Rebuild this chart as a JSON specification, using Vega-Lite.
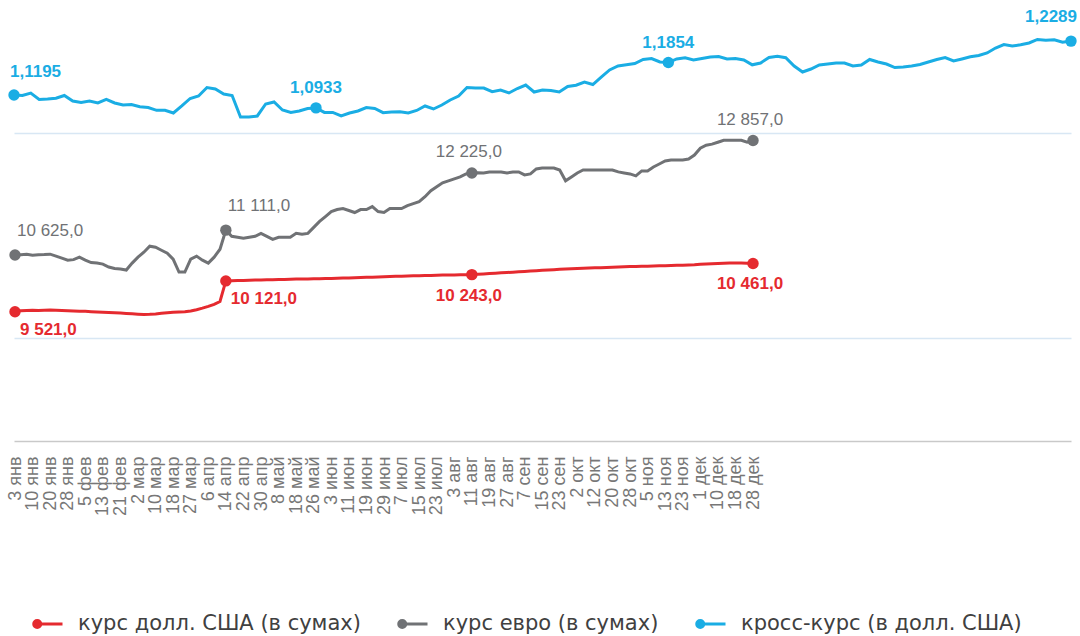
{
"$schema": "https://vega.github.io/schema/vega-lite/v6.json",
"width": 1060, "height": 436,
"autosize": {"type": "none"},
"padding": {"left": 14, "top": 5, "right": 6, "bottom": 195},
"background": "white",
"config": {
  "view": {"stroke": null},
  "font": "Liberation Sans",
  "locale": {"number": {"decimal": ",", "thousands": " ", "grouping": [3], "currency": ["", ""]}}
},
"data": {"values": [
{"d":"3 янв","usd":9521,"eur":10625,"cross":1.1195},
{"d":"6 янв","usd":9540,"eur":10633,"cross":1.1185},
{"d":"8 янв","usd":9545,"eur":10642,"cross":1.1234},
{"d":"10 янв","usd":9548,"eur":10623,"cross":1.1104},
{"d":"14 янв","usd":9545,"eur":10629,"cross":1.1114},
{"d":"16 янв","usd":9550,"eur":10634,"cross":1.1130},
{"d":"20 янв","usd":9552,"eur":10642,"cross":1.1185},
{"d":"22 янв","usd":9550,"eur":10604,"cross":1.1073},
{"d":"24 янв","usd":9545,"eur":10565,"cross":1.1043},
{"d":"28 янв","usd":9540,"eur":10526,"cross":1.1073},
{"d":"30 янв","usd":9535,"eur":10536,"cross":1.1033},
{"d":"3 фев","usd":9530,"eur":10584,"cross":1.1104},
{"d":"5 фев","usd":9528,"eur":10526,"cross":1.1033},
{"d":"7 фев","usd":9522,"eur":10478,"cross":1.0992},
{"d":"11 фев","usd":9515,"eur":10468,"cross":1.1002},
{"d":"13 фев","usd":9510,"eur":10449,"cross":1.0955},
{"d":"17 фев","usd":9505,"eur":10391,"cross":1.0941},
{"d":"19 фев","usd":9500,"eur":10362,"cross":1.0884},
{"d":"21 фев","usd":9495,"eur":10352,"cross":1.0884},
{"d":"25 фев","usd":9488,"eur":10333,"cross":1.0830},
{"d":"27 фев","usd":9480,"eur":10468,"cross":1.0972},
{"d":"2 мар","usd":9473,"eur":10584,"cross":1.1124},
{"d":"4 мар","usd":9468,"eur":10681,"cross":1.1175},
{"d":"6 мар","usd":9470,"eur":10797,"cross":1.1347},
{"d":"10 мар","usd":9478,"eur":10777,"cross":1.1317},
{"d":"12 мар","usd":9490,"eur":10719,"cross":1.1215},
{"d":"16 мар","usd":9500,"eur":10662,"cross":1.1185},
{"d":"18 мар","usd":9508,"eur":10546,"cross":1.0748},
{"d":"23 мар","usd":9515,"eur":10294,"cross":1.0748},
{"d":"25 мар","usd":9522,"eur":10294,"cross":1.0769},
{"d":"27 мар","usd":9535,"eur":10546,"cross":1.1012},
{"d":"31 мар","usd":9560,"eur":10604,"cross":1.1053},
{"d":"2 апр","usd":9590,"eur":10526,"cross":1.0891},
{"d":"6 апр","usd":9625,"eur":10468,"cross":1.0842},
{"d":"8 апр","usd":9665,"eur":10584,"cross":1.0870},
{"d":"10 апр","usd":9720,"eur":10739,"cross":1.0921},
{"d":"14 апр","usd":10121,"eur":11111,"cross":1.0933},
{"d":"16 апр","usd":10125,"eur":10990,"cross":1.0842},
{"d":"20 апр","usd":10128,"eur":10971,"cross":1.0842},
{"d":"22 апр","usd":10130,"eur":10951,"cross":1.0769},
{"d":"24 апр","usd":10135,"eur":10971,"cross":1.0830},
{"d":"28 апр","usd":10138,"eur":10990,"cross":1.0870},
{"d":"30 апр","usd":10140,"eur":11048,"cross":1.0941},
{"d":"4 май","usd":10142,"eur":10990,"cross":1.0921},
{"d":"6 май","usd":10145,"eur":10932,"cross":1.0836},
{"d":"8 май","usd":10148,"eur":10971,"cross":1.0850},
{"d":"12 май","usd":10150,"eur":10971,"cross":1.0854},
{"d":"14 май","usd":10153,"eur":10971,"cross":1.0830},
{"d":"18 май","usd":10156,"eur":11048,"cross":1.0881},
{"d":"20 май","usd":10158,"eur":11029,"cross":1.0972},
{"d":"22 май","usd":10160,"eur":11048,"cross":1.0911},
{"d":"26 май","usd":10163,"eur":11164,"cross":1.0992},
{"d":"28 май","usd":10165,"eur":11280,"cross":1.1094},
{"d":"1 июн","usd":10168,"eur":11376,"cross":1.1175},
{"d":"3 июн","usd":10170,"eur":11473,"cross":1.1347},
{"d":"5 июн","usd":10173,"eur":11512,"cross":1.1337},
{"d":"9 июн","usd":10176,"eur":11531,"cross":1.1337},
{"d":"11 июн","usd":10180,"eur":11493,"cross":1.1264},
{"d":"15 июн","usd":10183,"eur":11454,"cross":1.1297},
{"d":"17 июн","usd":10186,"eur":11512,"cross":1.1236},
{"d":"19 июн","usd":10190,"eur":11512,"cross":1.1327},
{"d":"23 июн","usd":10194,"eur":11570,"cross":1.1398},
{"d":"25 июн","usd":10198,"eur":11473,"cross":1.1256},
{"d":"29 июн","usd":10202,"eur":11454,"cross":1.1297},
{"d":"1 июл","usd":10206,"eur":11531,"cross":1.1286},
{"d":"3 июл","usd":10210,"eur":11531,"cross":1.1256},
{"d":"7 июл","usd":10214,"eur":11531,"cross":1.1368},
{"d":"9 июл","usd":10217,"eur":11589,"cross":1.1394},
{"d":"13 июл","usd":10220,"eur":11628,"cross":1.1459},
{"d":"15 июл","usd":10222,"eur":11666,"cross":1.1408},
{"d":"17 июл","usd":10225,"eur":11763,"cross":1.1560},
{"d":"21 июл","usd":10228,"eur":11879,"cross":1.1703},
{"d":"23 июл","usd":10231,"eur":11956,"cross":1.1784},
{"d":"27 июл","usd":10234,"eur":12033,"cross":1.1808},
{"d":"30 июл","usd":10236,"eur":12072,"cross":1.1834},
{"d":"3 авг","usd":10238,"eur":12111,"cross":1.1916},
{"d":"5 авг","usd":10240,"eur":12149,"cross":1.1936},
{"d":"7 авг","usd":10241,"eur":12207,"cross":1.1865},
{"d":"11 авг","usd":10243,"eur":12225,"cross":1.1854},
{"d":"13 авг","usd":10250,"eur":12230,"cross":1.1926},
{"d":"17 авг","usd":10257,"eur":12226,"cross":1.1950},
{"d":"19 авг","usd":10264,"eur":12246,"cross":1.1906},
{"d":"21 авг","usd":10271,"eur":12246,"cross":1.1936},
{"d":"25 авг","usd":10278,"eur":12246,"cross":1.1966},
{"d":"27 авг","usd":10285,"eur":12226,"cross":1.1976},
{"d":"31 авг","usd":10292,"eur":12246,"cross":1.1926},
{"d":"3 сен","usd":10299,"eur":12246,"cross":1.1936},
{"d":"7 сен","usd":10306,"eur":12188,"cross":1.1906},
{"d":"9 сен","usd":10313,"eur":12207,"cross":1.1808},
{"d":"11 сен","usd":10320,"eur":12304,"cross":1.1845},
{"d":"15 сен","usd":10327,"eur":12323,"cross":1.1956},
{"d":"17 сен","usd":10334,"eur":12323,"cross":1.1981},
{"d":"21 сен","usd":10340,"eur":12323,"cross":1.1952},
{"d":"23 сен","usd":10346,"eur":12284,"cross":1.1784},
{"d":"25 сен","usd":10352,"eur":12072,"cross":1.1662},
{"d":"29 сен","usd":10358,"eur":12149,"cross":1.1723},
{"d":"2 окт","usd":10364,"eur":12226,"cross":1.1804},
{"d":"6 окт","usd":10368,"eur":12284,"cross":1.1824},
{"d":"8 окт","usd":10372,"eur":12284,"cross":1.1845},
{"d":"12 окт","usd":10376,"eur":12284,"cross":1.1845},
{"d":"14 окт","usd":10380,"eur":12284,"cross":1.1784},
{"d":"16 окт","usd":10384,"eur":12284,"cross":1.1804},
{"d":"20 окт","usd":10388,"eur":12284,"cross":1.1916},
{"d":"22 окт","usd":10392,"eur":12246,"cross":1.1865},
{"d":"26 окт","usd":10396,"eur":12226,"cross":1.1824},
{"d":"28 окт","usd":10400,"eur":12207,"cross":1.1753},
{"d":"30 окт","usd":10403,"eur":12168,"cross":1.1763},
{"d":"3 ноя","usd":10406,"eur":12265,"cross":1.1784},
{"d":"5 ноя","usd":10409,"eur":12265,"cross":1.1814},
{"d":"9 ноя","usd":10412,"eur":12342,"cross":1.1865},
{"d":"11 ноя","usd":10415,"eur":12400,"cross":1.1916},
{"d":"13 ноя","usd":10418,"eur":12458,"cross":1.1956},
{"d":"17 ноя","usd":10421,"eur":12478,"cross":1.1885},
{"d":"19 ноя","usd":10424,"eur":12478,"cross":1.1926},
{"d":"23 ноя","usd":10427,"eur":12478,"cross":1.1971},
{"d":"25 ноя","usd":10430,"eur":12497,"cross":1.1997},
{"d":"27 ноя","usd":10435,"eur":12574,"cross":1.2048},
{"d":"1 дек","usd":10445,"eur":12709,"cross":1.2149},
{"d":"3 дек","usd":10450,"eur":12767,"cross":1.2220},
{"d":"7 дек","usd":10455,"eur":12787,"cross":1.2190},
{"d":"10 дек","usd":10460,"eur":12825,"cross":1.2214},
{"d":"14 дек","usd":10465,"eur":12864,"cross":1.2251},
{"d":"16 дек","usd":10470,"eur":12864,"cross":1.2322},
{"d":"18 дек","usd":10472,"eur":12864,"cross":1.2307},
{"d":"22 дек","usd":10470,"eur":12864,"cross":1.2315},
{"d":"24 дек","usd":10466,"eur":12825,"cross":1.2265},
{"d":"28 дек","usd":10461,"eur":12857,"cross":1.2289}
]},
"transform": [{"fold": ["usd", "eur", "cross"], "as": ["series", "v"]}],
"encoding": {
  "color": {
    "field": "series", "type": "nominal",
    "scale": {"domain": ["usd", "eur", "cross"], "range": ["#e52a2f", "#707275", "#1aade4"]},
    "legend": {
      "orient": "none", "legendX": 16, "legendY": 602, "direction": "horizontal", "title": null,
      "labelExpr": "datum.value == 'usd' ? 'курс долл. США (в сумах)' : datum.value == 'eur' ? 'курс евро (в сумах)' : 'кросс-курс (в долл. США)'",
      "labelFont": "DejaVu Sans", "labelFontSize": 21, "labelColor": "#404040", "labelLimit": 500,
      "symbolType": "M-0.856,0A0.226,0.226,0,1,1,-0.404,0A0.226,0.226,0,1,1,-0.856,0ZM-0.63,0L1,0",
      "symbolSize": 961, "symbolStrokeWidth": 3, "labelOffset": 14, "columnPadding": 31,
      "encode": {"symbols": {"update": {"fill": {"scale": "color", "field": "value"}, "stroke": {"scale": "color", "field": "value"}}}}
    }
  }
},
"resolve": {"scale": {"x": "independent", "y": "independent"}, "axis": {"x": "independent", "y": "independent"}},
"layer": [
  {
    "transform": [{"filter": "datum.series != 'cross'"}],
    "encoding": {
      "x": {"field": "d", "type": "ordinal", "sort": null,
        "scale": {"type": "point", "padding": 0, "range": [1, 739]},
        "axis": {"title": null, "values": ["3 янв","10 янв","20 янв","28 янв","5 фев","13 фев","21 фев","2 мар","10 мар","18 мар","27 мар","6 апр","14 апр","22 апр","30 апр","8 май","18 май","26 май","3 июн","11 июн","19 июн","29 июн","7 июл","15 июл","23 июл","3 авг","11 авг","19 авг","27 авг","7 сен","15 сен","23 сен","2 окт","12 окт","20 окт","28 окт","5 ноя","13 ноя","23 ноя","1 дек","10 дек","18 дек","28 дек"],
          "labelAngle": -90, "ticks": false, "domain": false, "grid": false, "labelPadding": 15,
          "labelFontSize": 18, "labelColor": "#777777", "labelFont": "Liberation Sans"}},
      "y": {"field": "v", "type": "quantitative",
        "scale": {"domain": [7000, 15500], "nice": false, "zero": false},
        "axis": null}
    },
    "layer": [
      {"mark": {"type": "line", "strokeWidth": 3}},
      {"transform": [{"filter": {"field": "d", "oneOf": ["3 янв", "14 апр", "11 авг", "28 дек"]}}],
       "mark": {"type": "circle", "size": 130, "opacity": 1}},
      {"transform": [{"filter": "datum.series == 'usd' && (datum.d == '3 янв' || datum.d == '14 апр')"}],
       "mark": {"type": "text", "align": "left", "baseline": "middle", "dx": 5, "dy": 18, "fontSize": 17, "fontWeight": "bold"},
       "encoding": {"text": {"field": "v", "type": "quantitative", "format": ",.1f"}}},
      {"transform": [{"filter": "datum.series == 'usd' && (datum.d == '11 авг' || datum.d == '28 дек')"}],
       "mark": {"type": "text", "align": "center", "baseline": "middle", "dx": -3, "dy": 21, "fontSize": 17, "fontWeight": "bold"},
       "encoding": {"text": {"field": "v", "type": "quantitative", "format": ",.1f"}}},
      {"transform": [{"filter": "datum.series == 'eur' && (datum.d == '3 янв' || datum.d == '14 апр')"}],
       "mark": {"type": "text", "align": "left", "baseline": "middle", "dx": 2, "dy": -24, "fontSize": 17},
       "encoding": {"text": {"field": "v", "type": "quantitative", "format": ",.1f"}}},
      {"transform": [{"filter": "datum.series == 'eur' && (datum.d == '11 авг' || datum.d == '28 дек')"}],
       "mark": {"type": "text", "align": "center", "baseline": "middle", "dx": -3, "dy": -21, "fontSize": 17},
       "encoding": {"text": {"field": "v", "type": "quantitative", "format": ",.1f"}}}
    ]
  },
  {
    "transform": [{"filter": "datum.series == 'cross'"}],
    "encoding": {
      "x": {"field": "d", "type": "ordinal", "sort": null,
        "scale": {"type": "point", "padding": 0, "range": [0, 1057]}, "axis": null},
      "y": {"field": "v", "type": "quantitative",
        "scale": {"domain": [0.4171, 1.3022], "nice": false, "zero": false},
        "axis": {"title": null, "values": [0.4171, 0.6254, 1.0419], "labels": false, "ticks": false, "domain": false, "grid": true,
          "gridColor": {"condition": {"test": "datum.value < 0.5", "value": "#c9c9c9"}, "value": "#d8e7f4"}, "gridWidth": 1.5}}
    },
    "layer": [
      {"mark": {"type": "line", "strokeWidth": 3}},
      {"transform": [{"filter": {"field": "d", "oneOf": ["3 янв", "14 апр", "11 авг", "28 дек"]}}],
       "mark": {"type": "circle", "size": 130, "opacity": 1}},
      {"transform": [{"filter": "datum.d == '3 янв'"}],
       "mark": {"type": "text", "align": "left", "baseline": "middle", "dx": -4, "dy": -23, "fontSize": 17, "fontWeight": "bold"},
       "encoding": {"text": {"field": "v", "type": "quantitative", "format": ".4f"}}},
      {"transform": [{"filter": "datum.d == '14 апр' || datum.d == '11 авг'"}],
       "mark": {"type": "text", "align": "center", "baseline": "middle", "dy": -20, "fontSize": 17, "fontWeight": "bold"},
       "encoding": {"text": {"field": "v", "type": "quantitative", "format": ".4f"}}},
      {"transform": [{"filter": "datum.d == '28 дек'"}],
       "mark": {"type": "text", "align": "right", "baseline": "middle", "dx": 6, "dy": -24, "fontSize": 17, "fontWeight": "bold"},
       "encoding": {"text": {"field": "v", "type": "quantitative", "format": ".4f"}}}
    ]
  }
]
}
